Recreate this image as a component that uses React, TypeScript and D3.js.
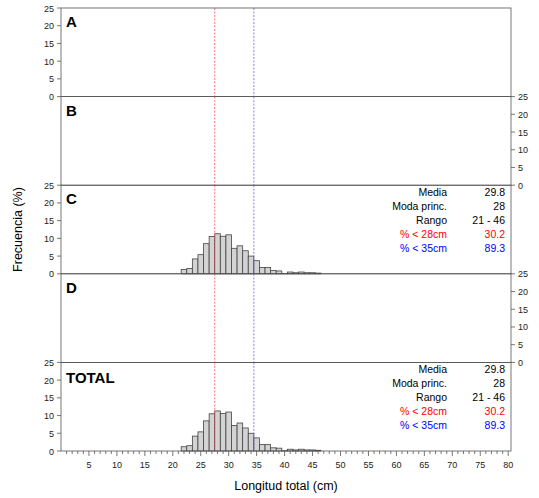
import React from 'react';
import * as d3 from 'd3';

const panels = ['A', 'B', 'C', 'D', 'TOTAL'];
const hasData = [false, false, true, false, true];
const axisRight = [false, true, false, true, false];
const lengths = [22, 23, 24, 25, 26, 27, 28, 29, 30, 31, 32, 33, 34, 35, 36, 37, 38, 39, 40, 41, 42, 43, 44, 45, 46];
const freqs = [1.2, 1.5, 4.2, 5.4, 8.5, 10.5, 11.3, 10.6, 11.0, 7.2, 7.9, 6.5, 5.0, 3.7, 1.8, 1.8, 0.9, 0.8, 0.1, 0.5, 0.3, 0.5, 0.3, 0.3, 0.2];
const statLabels = ['Media', 'Moda princ.', 'Rango', '% < 28cm', '% < 35cm'];
const statValues = ['29.8', '28', '21 - 46', '30.2', '89.3'];
const statColors = ['#000', '#000', '#000', '#ff0000', '#0000ff'];
const yTicks = [0, 5, 10, 15, 20, 25];
const xLabels = d3.range(5, 81, 5);
const redLine = 27.5;
const blueLine = 34.5;

const W = 539, H = 498;
const left = 61, right = 511, top = 8, ph = 88.6;

export default function App() {
  const x = d3.scaleLinear().domain([0, 80.5]).range([left, right]);
  const bottom = top + ph * panels.length;
  const font = 'Arial, "Liberation Sans", sans-serif';
  return (
    <svg width={W} height={H} style={{ position: 'absolute', left: 0, top: 0 }} fontFamily={font}>
      <rect width={W} height={H} fill="#fff" />
      {panels.map((p, i) => {
        const y0 = top + ph * i;
        const y = d3.scaleLinear().domain([0, 25]).range([y0 + ph, y0]);
        const ax = axisRight[i] ? right : left;
        const dir = axisRight[i] ? 1 : -1;
        return (
          <g key={p}>
            {hasData[i] && lengths.map((l, j) => (
              <rect key={l} x={x(l - 0.5)} width={x(l + 0.5) - x(l - 0.5)} y={y(freqs[j])}
                height={y(0) - y(freqs[j])} fill="#d3d3d3" stroke="#444" strokeWidth={0.8} />
            ))}
            <line x1={x(redLine)} x2={x(redLine)} y1={y0} y2={y0 + ph} stroke="#ff5050" strokeWidth={0.8} strokeDasharray="2,1.5" />
            <line x1={x(blueLine)} x2={x(blueLine)} y1={y0} y2={y0 + ph} stroke="#6060ff" strokeWidth={0.8} strokeDasharray="2,1.5" />
            <rect x={left} y={y0} width={right - left} height={ph} fill="none" stroke="#555" strokeWidth={0.8} />
            {yTicks.map(t => (
              <g key={t}>
                <line x1={ax} x2={ax + dir * 4} y1={y(t)} y2={y(t)} stroke="#555" strokeWidth={0.8} />
                <text x={ax + dir * 7} y={y(t) + 3.5} fontSize={9} textAnchor={axisRight[i] ? 'start' : 'end'} fill="#222">{t}</text>
              </g>
            ))}
            <text x={left + 5} y={y0 + (p === 'TOTAL' ? 21 : 19)} fontSize={p === 'TOTAL' ? 15 : 15} fontWeight="bold">{p}</text>
            {hasData[i] && statLabels.map((s, k) => (
              <g key={s}>
                <text x={447} y={y0 + 11 + k * 14} fontSize={10.5} textAnchor="end" fill={statColors[k]}>{s}</text>
                <text x={505} y={y0 + 11 + k * 14} fontSize={10.5} textAnchor="end" fill={statColors[k]}>{statValues[k]}</text>
              </g>
            ))}
          </g>
        );
      })}
      {d3.range(1, 81).map(v => (
        <line key={v} x1={x(v)} x2={x(v)} y1={bottom} y2={bottom + (v % 5 === 0 ? 5 : 3)} stroke="#555" strokeWidth={0.8} />
      ))}
      {xLabels.map(v => (
        <text key={v} x={x(v)} y={bottom + 17} fontSize={9} textAnchor="middle" fill="#222">{v}</text>
      ))}
      <text x={(left + right) / 2} y={490} fontSize={12.5} textAnchor="middle">Longitud total (cm)</text>
      <text transform={`translate(22,${(top + bottom) / 2}) rotate(-90)`} fontSize={12.5} textAnchor="middle">Frecuencia (%)</text>
    </svg>
  );
}
